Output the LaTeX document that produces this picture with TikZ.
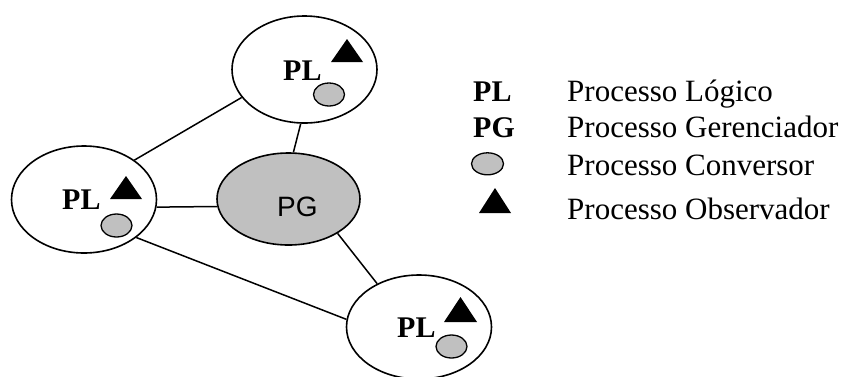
\documentclass[tikz,border=0pt]{standalone}
\usepackage{fontspec}
\setmainfont{Liberation Serif}
\newfontfamily\sansfont{Liberation Sans}
\usetikzlibrary{shapes.geometric}
\definecolor{procgray}{RGB}{192,192,192}
\begin{document}
\begin{tikzpicture}[x=1pt,y=-1pt,
  proc/.style={ellipse, draw, line width=1.6pt, inner sep=0pt,
               minimum width=145pt, minimum height=107pt, fill=white},
  conv/.style={ellipse, draw, line width=1.3pt, fill=procgray, inner sep=0pt,
               minimum width=31pt, minimum height=23pt},
  lbl/.style={anchor=base west, inner sep=0pt,
              font=\fontsize{30}{36}\selectfont\bfseries},
  leg/.style={anchor=base west, inner sep=0pt,
              font=\fontsize{31}{37}\selectfont},
  link/.style={line width=1.5pt}]
\useasboundingbox (0,0) rectangle (848,376);

% process ellipses
\node[proc] (top) at (304.5,69.5) {};
\node[proc] (left) at (84,199.5) {};
\node[proc, fill=procgray, minimum width=143pt, minimum height=92pt] (pg) at (288.5,199) {};
\node[proc, minimum height=104pt] (bot) at (419,327) {};

% links between processes
\draw[link] (top.204) -- (left.38.5);
\draw[link] (top.266) -- (pg.84);
\draw[link] (left.354) -- (pg.186);
\draw[link] (left.-36) -- (bot.174);
\draw[link] (pg.-35) -- (bot.134);

% labels
\node[lbl] (toplbl) at (283,80) {PL};
\node[lbl] (leftlbl) at (62,209) {PL};
\node[lbl] (botlbl) at (397,337) {PL};
\node[anchor=base west, inner sep=0pt, font=\sansfont\fontsize{28}{34}\selectfont] (pglbl) at (277,216) {PG};

% observers
\fill (331,62) -- (347,39) -- (363,62) -- cycle;
\fill (110,199) -- (126,176) -- (142,199) -- cycle;
\fill (444,322) -- (460.5,297) -- (477,322) -- cycle;

% converters
\node[conv] (topconv) at (329,94.5) {};
\node[conv] (leftconv) at (116.5,225.5) {};
\node[conv] (botconv) at (451.5,346.5) {};

% key
\node[lbl] (kpl) at (473,101) {PL};
\node[lbl] (kpg) at (473,137) {PG};
\node[conv, minimum width=32pt, minimum height=22pt] (kconv) at (487.5,163.8) {};
\fill (479,213) -- (495,188) -- (511,213) -- cycle;
\node[leg] (tpl) at (567,101) {Processo Lógico};
\node[leg] (tpg) at (567,137) {Processo Gerenciador};
\node[leg] (tconv) at (567,175) {Processo Conversor};
\node[leg] (tobs) at (567,219) {Processo Observador};
\end{tikzpicture}
\end{document}
